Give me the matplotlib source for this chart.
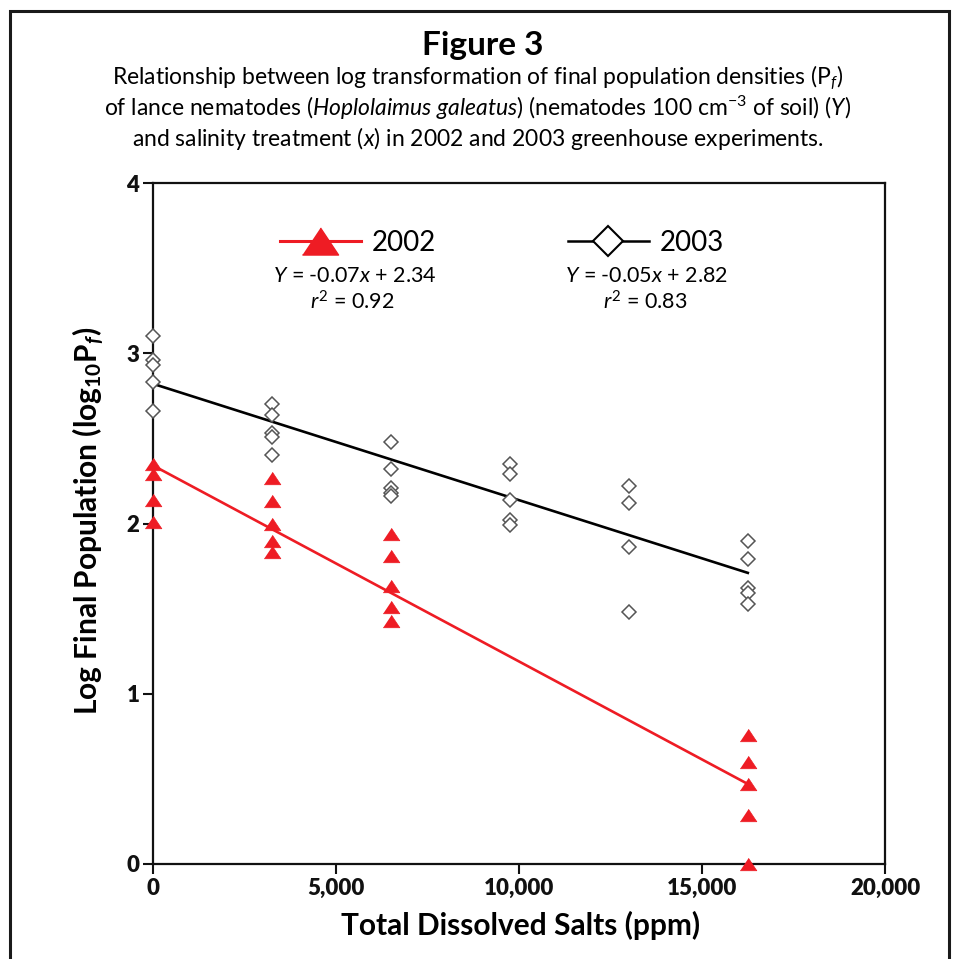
import matplotlib
matplotlib.use('Agg')
import matplotlib.pyplot as plt
from matplotlib.lines import Line2D
from matplotlib.patches import Rectangle
from matplotlib.font_manager import FontProperties

# ---------------- data ----------------
salts_2002 = [0, 0, 0, 0,
              3250, 3250, 3250, 3250, 3250,
              6500, 6500, 6500, 6500, 6500,
              16250, 16250, 16250, 16250, 16250]
logpf_2002 = [2.35, 2.29, 2.14, 2.01,
              2.27, 2.13, 2.00, 1.90, 1.83,
              1.94, 1.81, 1.63, 1.51, 1.43,
              0.76, 0.60, 0.47, 0.29, 0.00]

salts_2003 = [0, 0, 0, 0, 0,
              3250, 3250, 3250, 3250, 3250,
              6500, 6500, 6500, 6500, 6500,
              9750, 9750, 9750, 9750, 9750,
              13000, 13000, 13000, 13000,
              16250, 16250, 16250, 16250, 16250]
logpf_2003 = [3.10, 2.96, 2.93, 2.83, 2.66,
              2.70, 2.64, 2.53, 2.51, 2.40,
              2.48, 2.32, 2.21, 2.18, 2.16,
              2.35, 2.29, 2.14, 2.02, 1.99,
              2.22, 2.12, 1.86, 1.48,
              1.90, 1.79, 1.62, 1.59, 1.53]

fit_x = [0, 16250]
fit_2002 = [2.34, 0.47]
fit_2003 = [2.82, 1.71]

xticks = [0, 5000, 10000, 15000, 20000]
xticklabels = ['0', '5,000', '10,000', '15,000', '20,000']
yticks = [0, 1, 2, 3, 4]
yticklabels = ['0', '1', '2', '3', '4']

eq_2002 = r'$\mathit{Y}$ = -0.07$\mathit{x}$ + 2.34'
r2_2002 = r'$\mathit{r}^{\mathrm{2}}$ = 0.92'
eq_2003 = r'$\mathit{Y}$ = -0.05$\mathit{x}$ + 2.82'
r2_2003 = r'$\mathit{r}^{\mathrm{2}}$ = 0.83'

# ---------------- style ----------------
plt.rcParams['font.family'] = ['Lato', 'DejaVu Sans']
plt.rcParams['mathtext.fontset'] = 'custom'
plt.rcParams['mathtext.rm'] = 'Lato'
plt.rcParams['mathtext.it'] = 'Lato:italic'
plt.rcParams['mathtext.bf'] = 'Lato:bold'
plt.rcParams['mathtext.bfit'] = 'Lato:bold:italic'

RED = '#ee1c24'
W, H = 955, 959

fig = plt.figure(figsize=(W / 100, H / 100), dpi=100)
fig.patch.set_facecolor('white')

x0, x1, y0, y1 = 153.3, 885.0, 183.0, 864.0
ax = fig.add_axes([x0 / W, 1 - y1 / H, (x1 - x0) / W, (y1 - y0) / H])

# outer frame
fig.patches.append(Rectangle((10 / W, -0.02), (949 - 10) / W, 1.02 - 11 / H,
                             transform=fig.transFigure, fill=False,
                             edgecolor='#1a1a1a', linewidth=2.2, zorder=0))

# regression lines
ax.plot(fit_x, fit_2002, color=RED, lw=1.9, zorder=2)
ax.plot(fit_x, fit_2003, color='black', lw=1.9, zorder=2)

tri = [(-1, -0.75), (1, -0.75), (0, 0.75)]
ax.plot(salts_2002, logpf_2002, linestyle='none', marker=tri, ms=12,
        mfc=RED, mec=RED, mew=0.5, clip_on=False, zorder=4)
ax.plot(salts_2003, logpf_2003, linestyle='none', marker='D', ms=7.5,
        mfc='white', mec='#555555', mew=1.1, clip_on=False, zorder=4)

ax.set_xlim(0, 20000)
ax.set_ylim(0, 4)
ax.tick_params(direction='out', length=7, width=1.5, labelsize=16, pad=3,
               colors='#111111')
tick_fp = FontProperties(family=['Lato', 'DejaVu Sans'], weight='heavy', size=16)
ax.set_xticks(xticks, xticklabels, fontproperties=tick_fp)
ax.set_yticks(yticks, yticklabels, fontproperties=tick_fp)
for s in ax.spines.values():
    s.set_linewidth(1.6)
    s.set_color('#111111')

# legends
h02 = Line2D([], [], color=RED, lw=2.2, marker=tri, ms=26, mfc=RED, mec=RED)
h03 = Line2D([], [], color='black', lw=1.8, marker='D', ms=15, mfc='white',
             mec='black', mew=1.5)
leg_fp = FontProperties(family=['Lato', 'DejaVu Sans'], weight='normal', size=20)
leg1 = ax.legend([h02], ['2002'], loc='center left',
                 bbox_to_anchor=((280 - x0) / (x1 - x0), (y1 - 243) / (y1 - y0)),
                 frameon=False, prop=leg_fp, handlelength=2.9, handletextpad=0.4,
                 borderpad=0, borderaxespad=0)
ax.add_artist(leg1)
leg2 = ax.legend([h03], ['2003'], loc='center left',
                 bbox_to_anchor=((568 - x0) / (x1 - x0), (y1 - 243) / (y1 - y0)),
                 frameon=False, prop=leg_fp, handlelength=2.9, handletextpad=0.4,
                 borderpad=0, borderaxespad=0)

def axpos(px, py):
    return ((px - x0) / (x1 - x0), (y1 - py) / (y1 - y0))

for txt, (px, py) in [(eq_2002, (355, 276)), (r2_2002, (352, 302)),
                      (eq_2003, (647, 276)), (r2_2003, (645, 302))]:
    ax.text(*axpos(px, py), txt, transform=ax.transAxes, ha='center', va='center',
            fontsize=15.5, fontweight='normal')

# axis labels
fig.text(521 / W, 1 - 925 / H, 'Total Dissolved Salts (ppm)', ha='center', va='center',
         fontsize=21.5, fontweight='bold')
fig.text(88 / W, 1 - 521 / H,
         r'Log Final Population (log$_{\mathbf{10}}$P$_{\mathbfit{f}}$)',
         ha='center', va='center', rotation=90, fontsize=21.5, fontweight='bold')

# title
fig.text(483 / W, 1 - 45 / H, 'Figure 3', ha='center', va='center',
         fontsize=24, fontweight='bold')
sub = [r'Relationship between log transformation of final population densities (P$_{\mathit{f}}$)',
       r'of lance nematodes ($\mathit{Hoplolaimus\ galeatus}$) (nematodes 100 cm$^{\mathrm{-3}}$ of soil) ($\mathit{Y}$)',
       r'and salinity treatment ($\mathit{x}$) in 2002 and 2003 greenhouse experiments.']
for line, yy in zip(sub, [78, 108, 138]):
    fig.text(478 / W, 1 - yy / H, line, ha='center', va='center', fontsize=16.5,
             fontweight='normal')

fig.savefig('out.png', dpi=100)
